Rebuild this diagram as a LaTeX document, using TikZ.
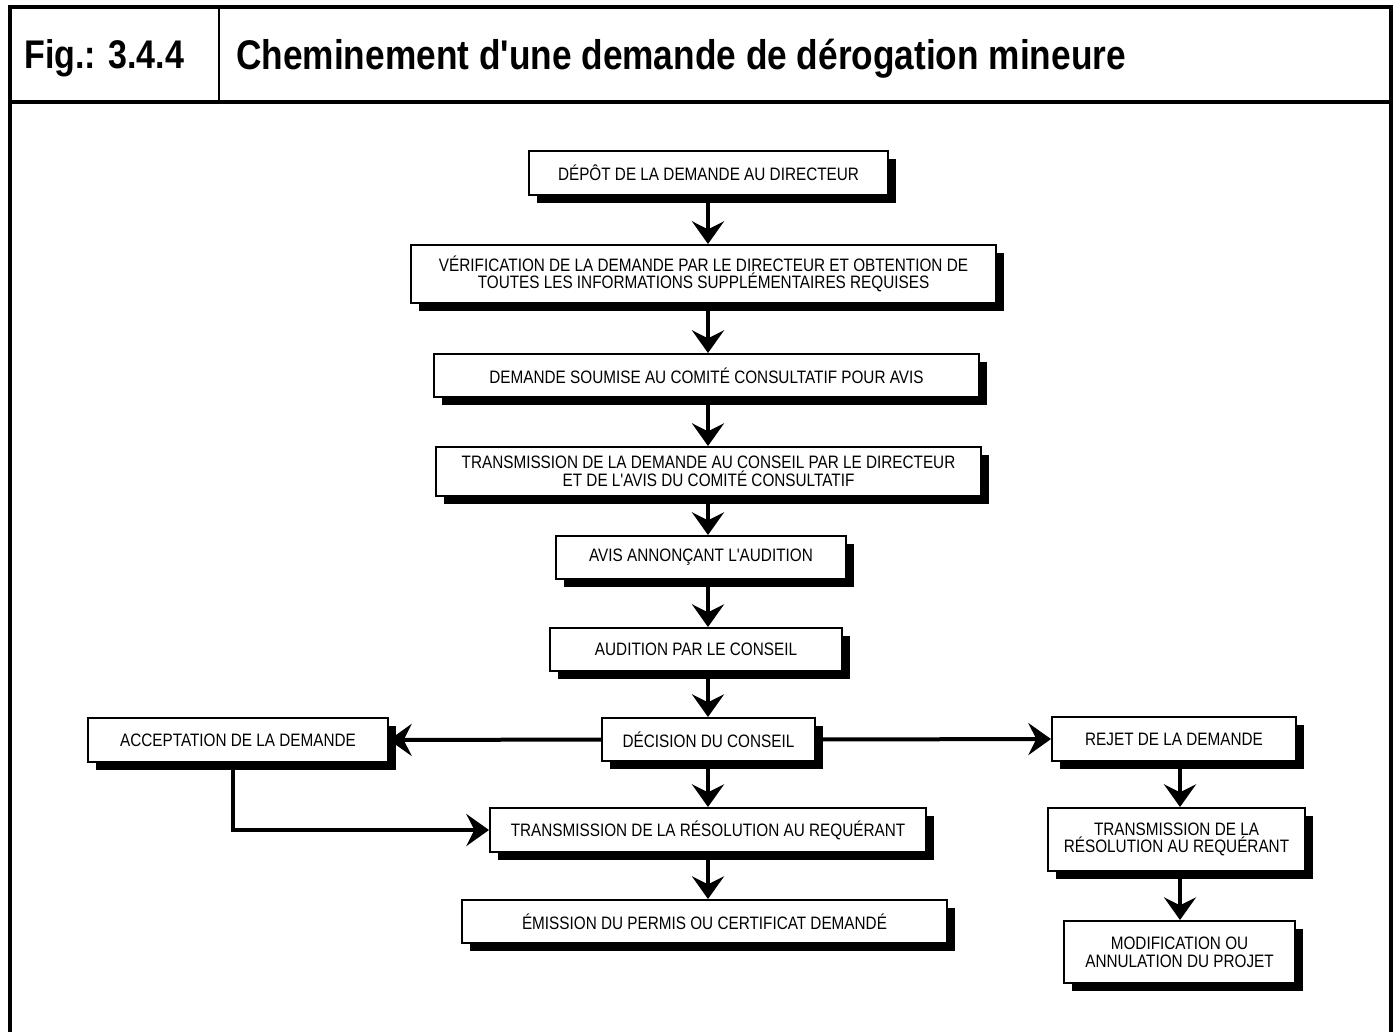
\documentclass[tikz,border=0pt]{standalone}
\usepackage{fontspec}
\usetikzlibrary{arrows.meta,shadows,calc}
\newfontfamily\boxfont[FakeStretch=0.85]{Liberation Sans}
\newfontfamily\headfont[FakeStretch=0.85]{Liberation Sans}
\begin{document}
\begin{tikzpicture}[x=0.75pt,y=-0.75pt,
  box/.style={draw, line width=1.5pt, fill=white, inner sep=0pt, align=center,
    font=\boxfont\fontsize{13.5}{13.2}\selectfont,
    drop shadow={shadow xshift=6pt, shadow yshift=-6pt, fill=black, opacity=1}},
  arr/.style={line width=3pt, -{Stealth[length=17pt,width=24pt,inset=6pt]}},
  frame/.style={line width=3pt},
  head/.style={font=\headfont\bfseries\fontsize{31.1}{32}\selectfont, inner sep=0pt, anchor=base west}]
\useasboundingbox (0,0) rectangle (1395,1032);
% frame
\draw[frame] (10,1032) -- (10,7) -- (1391,7) -- (1391,1032);
\draw[frame] (10,102) -- (1391,102);
\draw[line width=2.2pt] (219,7) -- (219,102);
\node[head, font=\headfont\bfseries\fontsize{30}{32}\selectfont] (fig) at (24,68) {Fig.: 3.4.4};
\node[head] (title) at (236,69) {Cheminement d'une demande de dérogation mineure};
% boxes
\node[box, minimum width=359*0.75pt, minimum height=44*0.75pt] (dep) at (708.5,173) {DÉPÔT DE LA DEMANDE AU DIRECTEUR};
\node[box, minimum width=585*0.75pt, minimum height=58*0.75pt] (ver) at (703.5,274) {VÉRIFICATION DE LA DEMANDE PAR LE DIRECTEUR ET OBTENTION DE\\TOUTES LES INFORMATIONS SUPPLÉMENTAIRES REQUISES};
\node[box, minimum width=545*0.75pt, minimum height=43*0.75pt] (sou) at (706.5,375.5) {DEMANDE SOUMISE AU COMITÉ CONSULTATIF POUR AVIS};
\node[box, minimum width=545*0.75pt, minimum height=49*0.75pt] (tra) at (708.5,471.5) {TRANSMISSION DE LA DEMANDE AU CONSEIL PAR LE DIRECTEUR\\ET DE L'AVIS DU COMITÉ CONSULTATIF};
\node[box, minimum width=290*0.75pt, minimum height=43*0.75pt] (avi) at (701,557.5) {AVIS ANNONÇANT L'AUDITION};
\node[box, minimum width=292*0.75pt, minimum height=43*0.75pt] (aud) at (696,649.5) {AUDITION PAR LE CONSEIL};
\node[box, minimum width=213*0.75pt, minimum height=43*0.75pt] (dec) at (708.5,739.5) {DÉCISION DU CONSEIL};
\node[box, minimum width=300*0.75pt, minimum height=44*0.75pt] (acc) at (238,740) {ACCEPTATION DE LA DEMANDE};
\node[box, minimum width=244*0.75pt, minimum height=44*0.75pt] (rej) at (1174,739) {REJET DE LA DEMANDE};
\node[box, minimum width=436*0.75pt, minimum height=44*0.75pt] (res) at (708,830) {TRANSMISSION DE LA RÉSOLUTION AU REQUÉRANT};
\node[box, minimum width=485*0.75pt, minimum height=43*0.75pt] (emi) at (704.5,921.5) {ÉMISSION DU PERMIS OU CERTIFICAT DEMANDÉ};
\node[box, minimum width=257*0.75pt, minimum height=63*0.75pt] (rtr) at (1176.5,839.5) {TRANSMISSION DE LA\\RÉSOLUTION AU REQUÉRANT};
\node[box, minimum width=231*0.75pt, minimum height=62*0.75pt] (mod) at (1179.5,952) {MODIFICATION OU\\ANNULATION DU PROJET};
% vertical arrows
\coordinate (cx) at (708,0);
\coordinate (rx) at (1180,0);
\draw[arr] (dep.south -| cx) -- (ver.north -| cx);
\draw[arr] (ver.south -| cx) -- (sou.north -| cx);
\draw[arr] (sou.south -| cx) -- (tra.north -| cx);
\draw[arr] (tra.south -| cx) -- (avi.north -| cx);
\draw[arr] (avi.south -| cx) -- (aud.north -| cx);
\draw[arr] (aud.south -| cx) -- (dec.north -| cx);
\draw[arr] (dec.south -| cx) -- (res.north -| cx);
\draw[arr] (res.south -| cx) -- (emi.north -| cx);
\draw[arr] (rej.south -| rx) -- (rtr.north -| rx);
\draw[arr] (rtr.south -| rx) -- (mod.north -| rx);
% horizontal arrows
\draw[arr] (dec.west) -- (acc.east);
\draw[arr] (dec.east) -- (rej.west);
\coordinate (ax) at (233,0);
\draw[arr] (acc.south -| ax) -- (ax |- res.west) -- (res.west);
\end{tikzpicture}
\end{document}
